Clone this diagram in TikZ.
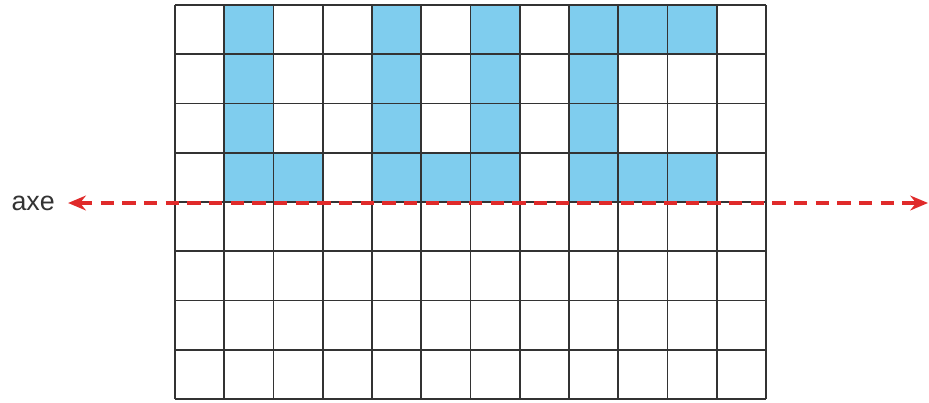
\documentclass[tikz,border=0pt]{standalone}
\usepackage{fontspec}
\setmainfont{Liberation Sans}
\usepackage{xcolor}
\usetikzlibrary{arrows.meta}
\definecolor{cellblue}{HTML}{7FCDEE}
\definecolor{axered}{HTML}{E02A2A}
\definecolor{gridgray}{HTML}{333333}

\begin{document}
\begin{tikzpicture}
\useasboundingbox (-3.553,-0.061) rectangle (15.310,8.102);
% Blue cells (column, row from top)
\foreach \c/\r in {1/0,1/1,1/2,1/3,2/3,
                   4/0,4/1,4/2,4/3,5/3,6/0,6/1,6/2,6/3,
                   8/0,8/1,8/2,8/3,9/0,10/0,9/3,10/3} {
    \fill[cellblue] (\c,7-\r) rectangle (\c+1,8-\r);
}

% Grid lines
\draw[gridgray, line width=0.9pt] (0,0) grid (12,8);

% Axis
\node[text=gridgray] (axe) at (-2.88,3.98) {\fontsize{15.5}{18}\selectfont axe};
\coordinate (axeL) at (-2.17,3.98);
\coordinate (axeR) at (15.29,3.98);
\draw[axered, line width=2.1pt, dash pattern=on 0.27cm off 0.17cm,
      {Stealth[length=0.36cm,width=0.3cm]}-{Stealth[length=0.36cm,width=0.3cm]}]
      (axeL) -- (axeR);
\end{tikzpicture}
\end{document}
